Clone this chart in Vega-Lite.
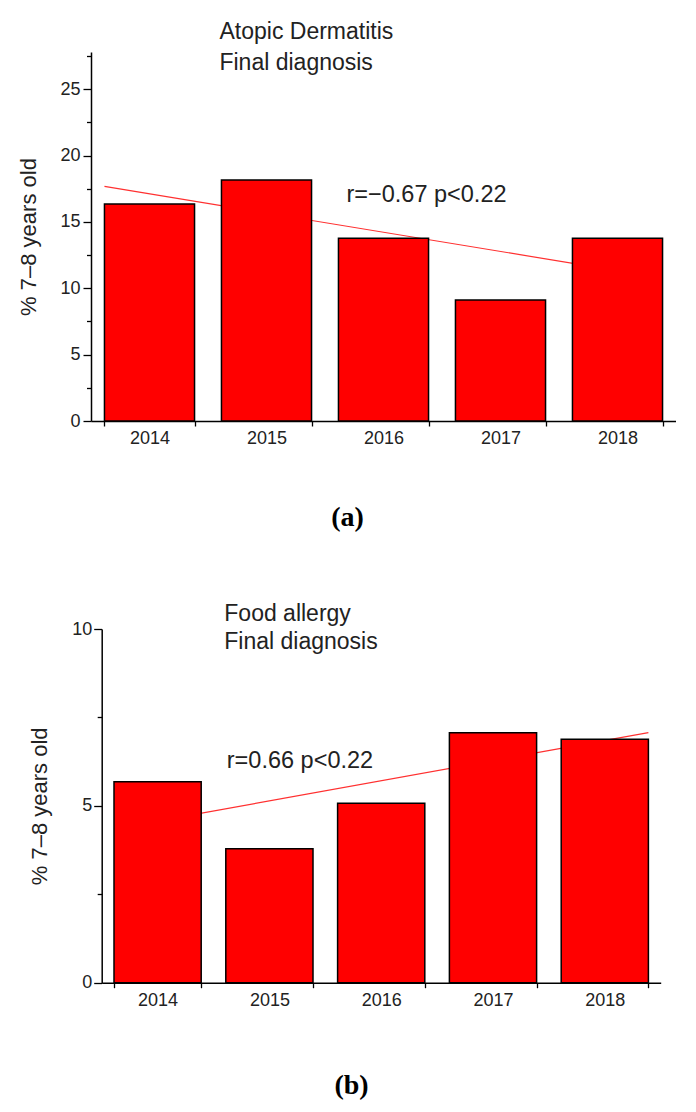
{
  "$schema": "https://vega.github.io/schema/vega-lite/v6.json",
  "padding": {"left": 17, "top": 21, "right": 0, "bottom": 0},
  "spacing": 71,
  "config": {
    "view": {"stroke": null},
    "font": "Liberation Sans",
    "axis": {"domainColor": "#000", "tickColor": "#000", "labelColor": "#222", "labelFont": "Liberation Sans", "labelFontSize": 18, "grid": false, "domainWidth": 1.5, "tickWidth": 1.3}
  },
  "vconcat": [
    {
      "width": 585,
      "height": 369,
      "data": {"values": [
        {"year": "2014", "pct": 16.34},
        {"year": "2015", "pct": 18.15},
        {"year": "2016", "pct": 13.76},
        {"year": "2017", "pct": 9.11},
        {"year": "2018", "pct": 13.76}
      ]},
      "layer": [
        {
          "data": {"values": [{"from": "2014", "to": "2018", "start": 17.67, "end": 10.77}]},
          "mark": {"type": "rule", "color": "#ff3030", "strokeWidth": 1.2},
          "encoding": {
            "x": {"field": "from", "type": "ordinal", "bandPosition": 0, "axis": null},
            "x2": {"field": "to", "bandPosition": 1},
            "y": {"field": "start", "type": "quantitative", "axis": null},
            "y2": {"field": "end"}
          }
        },
        {
          "mark": {"type": "bar", "fill": "#ff0000", "stroke": "#000", "strokeWidth": 1.5},
          "encoding": {
            "x": {"field": "year", "type": "ordinal", "scale": {"domain": ["2014", "2015", "2016", "2017", "2018"], "paddingInner": 0.23, "paddingOuter": 0.115},
              "axis": {"title": "(a)", "titleFont": "Liberation Serif", "titleFontSize": 28, "titleFontWeight": "bold", "titleColor": "#000", "titlePadding": 56, "titleX": 256, "labelAngle": 0, "tickBand": "extent", "tickSize": 5, "labelPadding": 3}},
            "y": {"field": "pct", "type": "quantitative", "scale": {"domain": [0, 27.8], "nice": false},
              "axis": {"values": [0, 5, 10, 15, 20, 25], "tickSize": 8, "labelPadding": 3, "title": "% 7–8 years old", "titleFont": "Liberation Sans", "titleFontSize": 22, "titleFontWeight": "normal", "titleColor": "#222", "titleBaseline": "alphabetic", "titlePadding": 24}}
          }
        },
        {
          "data": {"values": [
            {"year": "2015", "ty": 28.77, "label": "Atopic Dermatitis"},
            {"year": "2015", "ty": 26.43, "label": "Final diagnosis"}
          ]},
          "mark": {"type": "text", "align": "left", "baseline": "alphabetic", "fontSize": 23, "dx": -2, "color": "#222", "font": "Liberation Sans"},
          "encoding": {
            "x": {"field": "year", "type": "ordinal", "bandPosition": 0, "axis": null},
            "y": {"field": "ty", "type": "quantitative", "axis": {"orient": "left", "values": [2.5, 7.5, 12.5, 17.5, 22.5, 27.5], "labels": false, "domain": false, "tickSize": 4.5, "title": null}},
            "text": {"field": "label"}
          }
        },
        {
          "data": {"values": [{"year": "2016", "ty": 16.5, "label": "r=−0.67 p<0.22"}]},
          "mark": {"type": "text", "align": "left", "baseline": "alphabetic", "fontSize": 23.5, "dx": 8, "color": "#222", "font": "Liberation Sans"},
          "encoding": {
            "x": {"field": "year", "type": "ordinal", "bandPosition": 0, "axis": null},
            "y": {"field": "ty", "type": "quantitative", "axis": null},
            "text": {"field": "label"}
          }
        }
      ],
      "resolve": {"axis": {"x": "independent", "y": "independent"}}
    },
    {
      "width": 570,
      "height": 353.7,
      "data": {"values": [
        {"year": "2014", "pct": 5.68},
        {"year": "2015", "pct": 3.79},
        {"year": "2016", "pct": 5.07},
        {"year": "2017", "pct": 7.07},
        {"year": "2018", "pct": 6.88}
      ]},
      "layer": [
        {
          "data": {"values": [{"from": "2014", "to": "2018", "start": 4.35, "end": 7.07}]},
          "mark": {"type": "rule", "color": "#ff3030", "strokeWidth": 1.2},
          "encoding": {
            "x": {"field": "from", "type": "ordinal", "bandPosition": 0, "axis": null},
            "x2": {"field": "to", "bandPosition": 1},
            "y": {"field": "start", "type": "quantitative", "axis": null},
            "y2": {"field": "end"}
          }
        },
        {
          "mark": {"type": "bar", "fill": "#ff0000", "stroke": "#000", "strokeWidth": 1.5},
          "encoding": {
            "x": {"field": "year", "type": "ordinal", "scale": {"domain": ["2014", "2015", "2016", "2017", "2018"], "range": [10.7, 569.7], "paddingInner": 0.22, "paddingOuter": 0.11},
              "axis": {"title": "(b)", "titleFont": "Liberation Serif", "titleFontSize": 28, "titleFontWeight": "bold", "titleColor": "#000", "titlePadding": 62, "titleX": 260, "labelAngle": 0, "tickBand": "extent", "tickSize": 5, "labelPadding": 4}},
            "y": {"field": "pct", "type": "quantitative", "scale": {"domain": [0, 10], "nice": false},
              "axis": {"values": [0, 5, 10], "offset": -10.7, "tickSize": 8, "labelPadding": 2, "title": "% 7–8 years old", "titleFont": "Liberation Sans", "titleFontSize": 22, "titleFontWeight": "normal", "titleColor": "#222", "titleBaseline": "alphabetic", "titlePadding": 25}}
          }
        },
        {
          "data": {"values": [
            {"year": "2015", "ty": 10.23, "label": "Food allergy"},
            {"year": "2015", "ty": 9.43, "label": "Final diagnosis"}
          ]},
          "mark": {"type": "text", "align": "left", "baseline": "alphabetic", "fontSize": 23, "dx": -1.5, "color": "#222", "font": "Liberation Sans"},
          "encoding": {
            "x": {"field": "year", "type": "ordinal", "bandPosition": 0, "axis": null},
            "y": {"field": "ty", "type": "quantitative", "axis": {"orient": "left", "offset": -10.7, "values": [2.5, 7.5], "labels": false, "domain": false, "tickSize": 4.5, "title": null}},
            "text": {"field": "label"}
          }
        },
        {
          "data": {"values": [{"year": "2015", "ty": 6.08, "label": "r=0.66 p<0.22"}]},
          "mark": {"type": "text", "align": "left", "baseline": "alphabetic", "fontSize": 23.5, "dx": 1, "color": "#222", "font": "Liberation Sans"},
          "encoding": {
            "x": {"field": "year", "type": "ordinal", "bandPosition": 0, "axis": null},
            "y": {"field": "ty", "type": "quantitative", "axis": null},
            "text": {"field": "label"}
          }
        }
      ],
      "resolve": {"axis": {"x": "independent", "y": "independent"}}
    }
  ]
}
